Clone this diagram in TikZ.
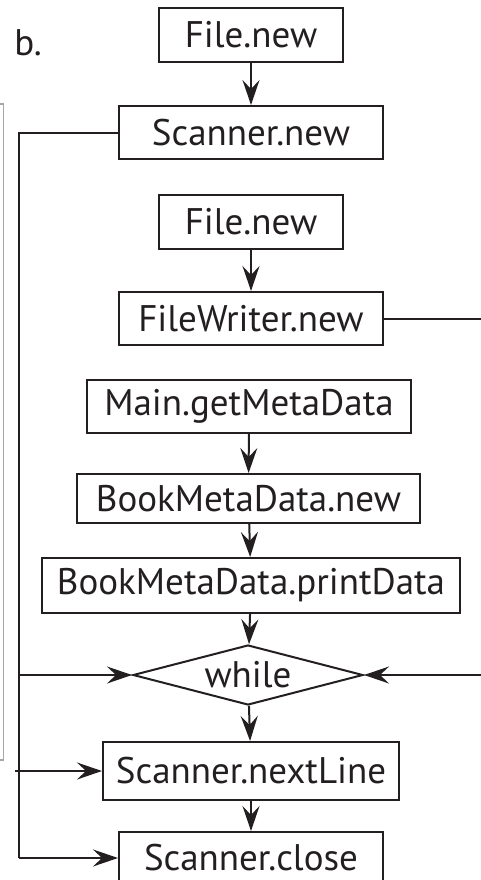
\documentclass[tikz,border=0pt]{standalone}
\usepackage{fontspec}
\setmainfont{PT Sans}
\usetikzlibrary{shapes.geometric,arrows.meta}
\definecolor{ink}{HTML}{231F20}
\begin{document}
\begin{tikzpicture}[x=1pt,y=-1pt,
  every node/.style={font=\fontsize{37}{42}\selectfont, text=ink},
  box/.style={draw=ink, line width=2pt, inner sep=0pt, minimum height=53pt},
  cond/.style={draw=ink, line width=2pt, diamond, inner sep=0pt, minimum width=230pt, minimum height=60pt, shape aspect=3.83},
  link/.style={draw=ink, line width=2pt},
  arr/.style={link, -{Stealth[length=25pt,width=17pt,inset=9pt]}}]
\useasboundingbox (0,0) rectangle (481,880);
\clip (0,0) rectangle (481,880);
% edge of the neighbouring panel
\draw[gray!70, line width=1.5pt] (0,104) -- (3.5,104) -- (3.5,760) -- (0,760);
\node (lbl) at (28,43) {b.};
\node[box, minimum width=184pt, minimum height=54pt] (f1) at (251,35) {File.new};
\node[box, minimum width=264pt] (sn) at (251,132.5) {Scanner.new};
\node[box, minimum width=184pt, minimum height=54pt] (f2) at (251,222) {File.new};
\node[box, minimum width=264pt] (fw) at (251,318.5) {FileWriter.new};
\node[box, minimum width=324pt] (mg) at (249,406.5) {Main.getMetaData};
\node[box, minimum width=343pt, minimum height=49pt] (bn) at (248.5,498.5) {BookMetaData.new};
\node[box, minimum width=418pt, minimum height=55pt] (bp) at (251,585.5) {BookMetaData.printData};
\node[cond] (wh) at (248,675) {while};
\node[box, minimum width=296pt, minimum height=58pt] (nl) at (251,771) {Scanner.nextLine};
\node[box, minimum width=264pt, minimum height=52pt] (cl) at (251,858) {Scanner.close};
\coordinate (lt) at (19,132.5);
\coordinate (lw) at (19,675);
\coordinate (ln) at (15,771);
\coordinate (lc) at (19,858);
\coordinate (rf) at (481,318.5);
\coordinate (rw) at (481,675);
\draw[arr] (f1) -- (sn);
\draw[arr] (f2) -- (fw);
\draw[arr] (mg) -- (bn);
\draw[arr] (bn) -- (bp);
\draw[arr] (bp) -- (wh);
\draw[arr] (wh) -- (nl);
\draw[arr] (nl) -- (cl);
\draw[link] (sn.west) -- (lt) -- (lc);
\draw[arr] (lc) -- (cl.west);
\draw[arr] (lw) -- (wh.west);
\draw[arr] (ln) -- (nl.west);
\draw[link] (fw.east) -- (rf);
\draw[arr] (rw) -- (wh.east);
\end{tikzpicture}
\end{document}
